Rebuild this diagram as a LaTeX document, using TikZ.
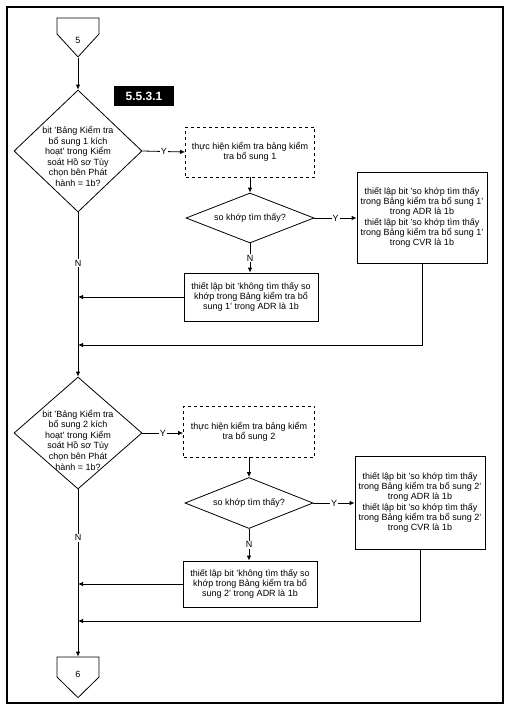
\documentclass[tikz,border=0pt]{standalone}
\usepackage{fontspec}
\setmainfont{Liberation Sans}
\usetikzlibrary{shapes.geometric, shapes.symbols, arrows.meta}

\tikzset{
  flow/.style={draw=black, line width=0.8pt},
  txt/.style={font=\fontsize{9}{10.2}\selectfont},
  decision/.style={flow, diamond, aspect=1, inner sep=0pt, minimum width=128pt},
  dtext/.style={txt, align=center, font=\fontsize{9}{10.6}\selectfont},
  test/.style={flow, txt, diamond, aspect=2.5, inner sep=-4pt, minimum width=128pt, minimum height=50pt},
  proc/.style={flow, txt, rectangle, align=center, inner sep=2pt},
  offpage/.style={flow, txt, signal, signal to=south, signal from=nowhere,
    minimum width=42pt, inner sep=0pt},
  arr/.style={line width=0.8pt, -{Latex[length=5pt,width=4.5pt]}},
  yn/.style={txt, fill=white, inner sep=1pt}
}

\begin{document}
\begin{tikzpicture}[x=1pt, y=-1pt]
\useasboundingbox (0,0) rectangle (513,709);
\draw[line width=1.1pt] (7,7) rectangle (503,703);

\node[offpage, signal pointer angle=85, minimum height=16pt, label={[txt, yshift=-14pt]center:5}] (c5) at (78,26) {};
\node[fill=black, text=white, font=\bfseries\fontsize{12}{14}\selectfont, minimum width=60pt, minimum height=20pt, inner sep=0pt] (tag) at (144,96) {5.5.3.1};

\node[decision, minimum height=122pt] (d1) at (78,151) {};
\node[dtext] (d1text) at (78,156.5) {bit 'Bảng Kiểm tra\\bổ sung 1 kích\\hoạt' trong Kiểm\\soát Hồ sơ Tùy\\chọn bên Phát\\hành = 1b?};
\node[proc, dashed, minimum width=129pt, minimum height=50pt] (chk1) at (250,152) {thực hiện kiểm tra bảng kiểm\\tra bổ sung 1};
\node[test] (m1) at (250,218) {so khớp tìm thấy?};
\node[proc, minimum width=130pt, minimum height=91pt] (set1) at (422,217.5) {thiết lập bit 'so khớp tìm thấy\\trong Bảng kiểm tra bổ sung 1'\\trong ADR là 1b\\thiết lập bit 'so khớp tìm thấy\\trong Bảng kiểm tra bổ sung 1'\\trong CVR là 1b};
\node[proc, minimum width=134pt, minimum height=48pt] (nf1) at (251,297) {thiết lập bit 'không tìm thấy so\\khớp trong Bảng kiểm tra bổ\\sung 1' trong ADR là 1b};
\coordinate (r1) at (78,345);

\node[decision, minimum height=112pt] (d2) at (78,433) {};
\node[dtext] (d2text) at (78,440) {bit 'Bảng Kiểm tra\\bổ sung 2 kích\\hoạt' trong Kiểm\\soát Hồ sơ Tùy\\chọn bên Phát\\hành = 1b?};
\node[proc, dashed, minimum width=131pt, minimum height=51pt] (chk2) at (249,431.5) {thực hiện kiểm tra bảng kiểm\\tra bổ sung 2};
\node[test, minimum height=51pt] (m2) at (249,503) {so khớp tìm thấy?};
\node[proc, minimum width=130pt, minimum height=93pt] (set2) at (420,502.5) {thiết lập bit 'so khớp tìm thấy\\trong Bảng kiểm tra bổ sung 2'\\trong ADR là 1b\\thiết lập bit 'so khớp tìm thấy\\trong Bảng kiểm tra bổ sung 2'\\trong CVR là 1b};
\node[proc, minimum width=134pt, minimum height=46pt] (nf2) at (250,584) {thiết lập bit 'không tìm thấy so\\khớp trong Bảng kiểm tra bổ\\sung 2' trong ADR là 1b};
\coordinate (r2) at (78,621);

\node[offpage, signal pointer angle=91, minimum height=20pt, label={[txt, yshift=-7pt]center:6}] (c6) at (78,667) {};

\draw[arr] (c5.south) -- (d1.north);
\draw[arr] (d1.east) -- node[yn]{Y} (chk1.west);
\draw[arr] (chk1.south) -- (m1.north);
\draw[arr] (m1.east) -- node[yn]{Y} (set1.west |- m1.east);
\draw[arr] (m1.south) -- node[yn]{N} (m1.south |- nf1.north);
\draw[arr] (nf1.west) -- (nf1.west -| d1.south);
\draw[arr] (set1.south) |- (r1);
\draw[arr] (d1.south) -- node[yn, pos=0.31]{N} (d2.north);

\draw[arr] (d2.east) -- node[yn]{Y} (chk2.west |- d2.east);
\draw[arr] (chk2.south) -- (m2.north);
\draw[arr] (m2.east) -- node[yn]{Y} (set2.west |- m2.east);
\draw[arr] (m2.south) -- node[yn]{N} (m2.south |- nf2.north);
\draw[arr] (nf2.west) -- (nf2.west -| d2.south);
\draw[arr] (set2.south) |- (r2);
\draw[arr] (d2.south) -- node[yn, pos=0.29]{N} (c6.north);
\end{tikzpicture}
\end{document}
